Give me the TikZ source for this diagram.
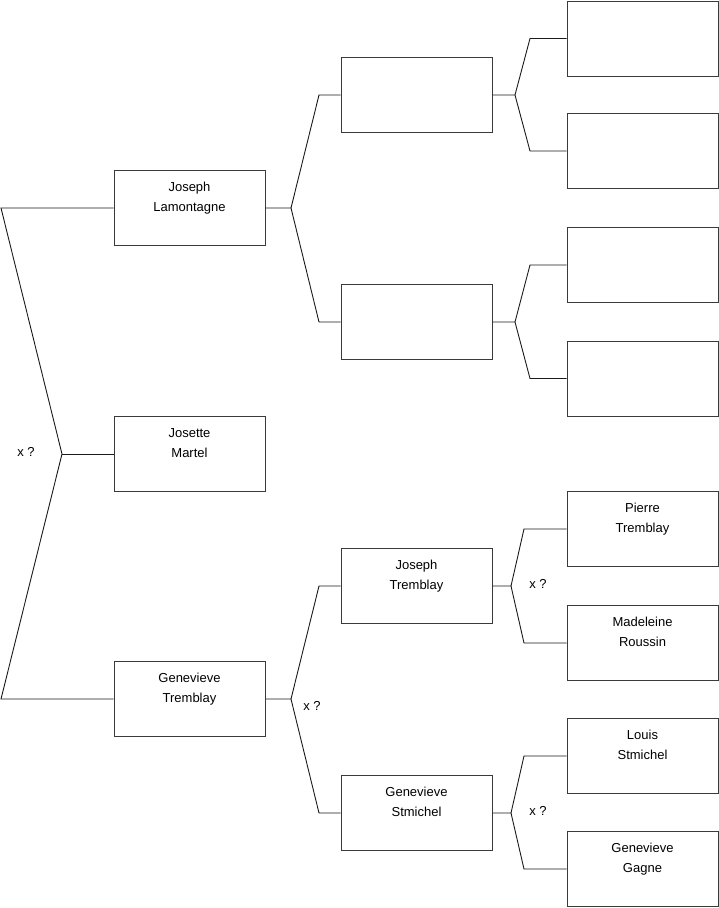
\documentclass[tikz,border=0pt]{standalone}
\usepackage{fontspec}
\setmainfont{Liberation Sans}
\usetikzlibrary{calc}
\definecolor{boxline}{HTML}{3A3A3A}
\definecolor{linkline}{HTML}{1A1A1A}
\tikzset{
  person/.style={draw=boxline,line width=1pt,
                 minimum width=151pt,minimum height=75pt,inner sep=0pt},
  nametext/.style={anchor=north,inner sep=0pt,yshift=-12pt,
                   align=center,font=\fontsize{13}{20}\selectfont},
  link/.style={draw=linkline,line width=0.9pt,line join=miter},
  unsure/.style={font=\fontsize{13}{16}\selectfont,inner sep=0pt}
}

\begin{document}
\begin{tikzpicture}[x=1pt,y=-1pt]
  \useasboundingbox (0,0) rectangle (719,908);

  % first generation
  \node[person,label={[nametext]north:{Joseph\\Lamontagne}}] (jl) at (189.5,208) {};
  \node[person,label={[nametext]north:{Josette\\Martel}}] (jm) at (189.5,454) {};
  \node[person,label={[nametext]north:{Genevieve\\Tremblay}}] (gt) at (189.5,699) {};

  % second generation
  \node[person] (u1) at (416.5,95) {};
  \node[person] (u2) at (416.5,322) {};
  \node[person,label={[nametext]north:{Joseph\\Tremblay}}] (jt) at (416.5,586) {};
  \node[person,label={[nametext]north:{Genevieve\\Stmichel}}] (gs) at (416.5,813) {};

  % third generation
  \node[person] (g1) at (642.5,38.5) {};
  \node[person] (g2) at (642.5,151) {};
  \node[person] (g3) at (642.5,265) {};
  \node[person] (g4) at (642.5,378.5) {};
  \node[person,label={[nametext]north:{Pierre\\Tremblay}}] (pt) at (642.5,529) {};
  \node[person,label={[nametext]north:{Madeleine\\Roussin}}] (mr) at (642.5,643) {};
  \node[person,label={[nametext]north:{Louis\\Stmichel}}] (ls) at (642.5,756) {};
  \node[person,label={[nametext]north:{Genevieve\\Gagne}}] (gg) at (642.5,869) {};

  % left bracket
  \coordinate (top0) at (1,208);
  \coordinate (fork0) at (62,454);
  \coordinate (bot0) at (1,699);
  \draw[link] (jl.west) -- (top0) -- (fork0) -- (bot0) -- (gt.west);
  \draw[link] (fork0) -- (jm.west);

  % forks: parent / upper child / lower child / fork x / elbow x
  \foreach \p/\a/\b/\fx/\ex in {jl/u1/u2/291/319, u1/g1/g2/515/530,
                                u2/g3/g4/515/530, gt/jt/gs/291/319,
                                jt/pt/mr/511/524, gs/ls/gg/511/524} {
    \draw[link] (\p.east) -- (\p.east -| \fx,0) coordinate (fk-\p)
      -- (\a.west -| \ex,0) -- (\a.west);
    \draw[link] (fk-\p) -- (\b.west -| \ex,0) -- (\b.west);
  }

  % marriage marks
  \node[unsure] (q0) at (26,452) {x ?};
  \node[unsure] (q1) at (312,706) {x ?};
  \node[unsure] (q2) at (538,584) {x ?};
  \node[unsure] (q3) at (538,811) {x ?};
\end{tikzpicture}
\end{document}
